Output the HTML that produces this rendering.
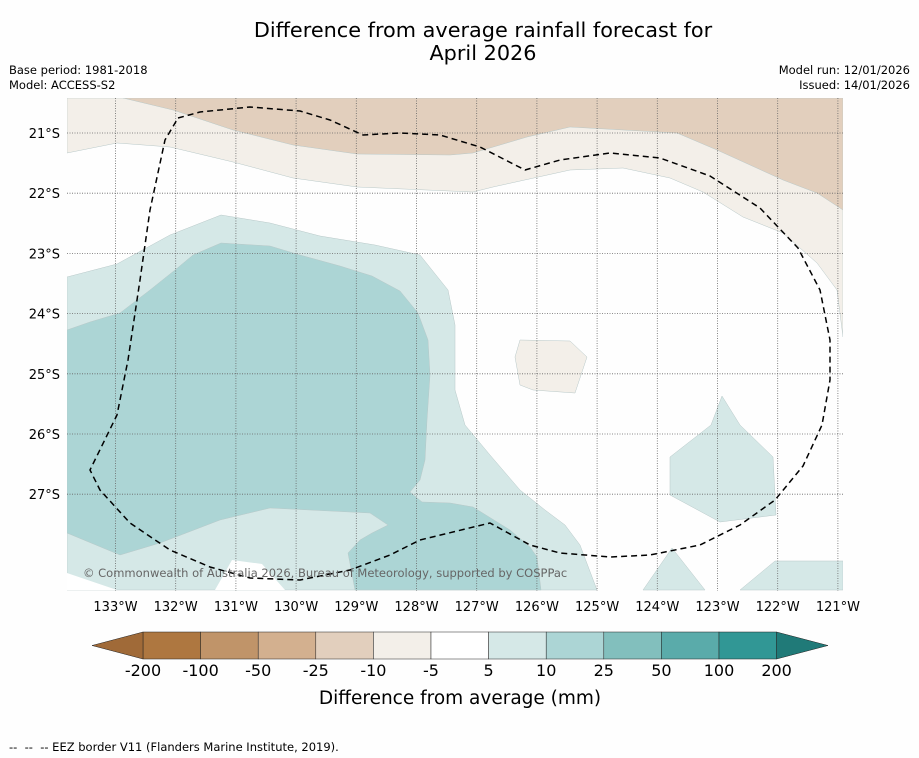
<!DOCTYPE html>
<html><head><meta charset="utf-8"><style>
body{margin:0;background:#fff;font-family:"Liberation Sans","DejaVu Sans",sans-serif}
#wrap{position:relative;width:919px;height:758px;background:#fefefe;overflow:hidden}
.t{position:absolute;color:#000}
</style></head><body>
<div id="wrap">
<div class="t" style="left:0;width:966px;top:19px;text-align:center;font-size:20.8px;line-height:23px;font-family:'DejaVu Sans',sans-serif">Difference from average rainfall forecast for<br>April 2026</div>
<div class="t" style="left:9px;top:63px;font-size:11.5px;line-height:15px;font-family:'DejaVu Sans',sans-serif">Base period: 1981-2018<br>Model: ACCESS-S2</div>
<div class="t" style="right:9px;top:63px;font-size:11.5px;line-height:15px;text-align:right;font-family:'DejaVu Sans',sans-serif">Model run: 12/01/2026<br>Issued: 14/01/2026</div>
<svg id="map" width="919" height="758" style="position:absolute;left:0;top:0" font-family="DejaVu Sans, sans-serif"></svg>
<div class="t" style="left:9px;top:740px;font-size:11.5px;font-family:'DejaVu Sans',sans-serif;white-space:nowrap">--&nbsp; --&nbsp; -- EEZ border V11 (Flanders Marine Institute, 2019).</div>
</div>
<script>
const lonTicks=[-133,-132,-131,-130,-129,-128,-127,-126,-125,-124,-123,-122,-121];
const latTicks=[-21,-22,-23,-24,-25,-26,-27];
const latLabels=["21°S","22°S","23°S","24°S","25°S","26°S","27°S"];
const cbLevels=["-200","-100","-50","-25","-10","-5","5","10","25","50","100","200"];
const cbColors=["#ae7740","#c09469","#d3b08f","#e2cfbd","#f3efe9","#ffffff","#d5e8e7","#acd5d5","#82bfbd","#5aabaa","#319795"];
const P=(x,y)=>[-133+(x-115.5)/60.2,-21-(y-133)/60.2];
const regLightBrown=[[67,98],[843,98],[843,337],[837,290],[817,263],[783,233],[743,217],[703,192],[670,178],[623,168],[570,170],[493,187],[473,192],[357,187],[293,178],[233,162],[170,147],[117,143],[67,153]].map(p=>P(...p));
const regBrown=[[123,98],[843,98],[843,210],[817,193],[783,180],[717,150],[677,133],[570,127],[527,137],[473,153],[450,155],[357,154],[293,145],[233,130],[173,110]].map(p=>P(...p));
const regBrownPatch=[[520,340],[570,341],[587,357],[575,393],[533,390],[520,385],[515,357]].map(p=>P(...p));
const regTeal1=[[67,277],[117,264],[170,235],[221,215],[270,223],[320,236],[375,245],[420,255],[448,290],[455,325],[455,390],[465,425],[490,455],[520,490],[545,510],[565,525],[580,545],[597,590],[67,590]].map(p=>P(...p));
const regWhiteHole=[[67,573],[117,590],[67,590]].map(p=>P(...p));
const regWhiteHole2=[[215,590],[232,560],[262,564],[285,590]].map(p=>P(...p));
const regTeal1b=[[670,457],[711,425],[722,396],[740,425],[773,457],[776,515],[720,522],[670,495]].map(p=>P(...p));
const regTeal1c=[[643,590],[672,548],[705,590]].map(p=>P(...p));
const regTeal1d=[[740,590],[775,561],[843,561],[843,590]].map(p=>P(...p));
const regTeal2=[[67,330],[90,322],[120,313],[150,290],[175,270],[193,255],[221,243],[270,246],[300,255],[340,266],[372,276],[400,291],[418,313],[428,340],[430,375],[427,420],[425,460],[420,480],[410,492],[422,502],[450,503],[473,507],[510,530],[530,547],[537,557],[541,590],[355,590],[348,553],[360,540],[372,533],[388,525],[370,513],[270,508],[220,520],[160,543],[120,555],[67,533]].map(p=>P(...p));
const eez=[[178,118],[200,112],[250,107],[300,111],[330,120],[363,135],[400,133],[440,135],[480,147],[525,170],[560,160],[610,153],[660,158],[710,176],[760,208],[798,248],[820,290],[830,340],[830,380],[822,425],[803,466],[775,500],[740,525],[700,545],[650,555],[610,557],[560,553],[530,545],[490,523],[420,540],[390,555],[350,570],[300,580],[250,578],[210,567],[170,550],[130,523],[100,490],[90,470],[117,415],[128,360],[140,280],[150,210],[165,140],[178,118]].map(p=>P(...p));
const X=lon=>115.5+(lon+133)*60.2, Y=lat=>133+(-21-lat)*60.2;
const svg=document.getElementById('map'),NS='http://www.w3.org/2000/svg';
function mk(t,a,par){const e=document.createElementNS(NS,t);for(const k in a)e.setAttribute(k,a[k]);(par||svg).appendChild(e);return e;}
const defs=mk('defs',{});const cp=mk('clipPath',{id:'c'},defs);mk('rect',{x:67,y:98,width:776,height:493},cp);
const g=mk('g',{'clip-path':'url(#c)'});
const pts=a=>a.map(p=>X(p[0]).toFixed(1)+','+Y(p[1]).toFixed(1)).join(' ');
function poly(a,fill,name){const e=mk('polygon',{points:pts(a),fill:fill,stroke:fill==='#ffffff'?'none':'#b8c8c8','stroke-width':0.5},g);

}
poly(regLightBrown,'#f3efe9','region-minus10-to-minus5');
poly(regBrown,'#e2cfbd','region-minus25-to-minus10');
poly(regBrownPatch,'#f3efe9','region-small-dry-patch');
poly(regTeal1,'#d5e8e7','region-5-to-10');
poly(regWhiteHole,'#ffffff','region-neutral-corner');
poly(regWhiteHole2,'#ffffff','region-neutral-gap');
poly(regTeal1b,'#d5e8e7','region-5-to-10-east');
poly(regTeal1c,'#d5e8e7','region-5-to-10-south');
poly(regTeal1d,'#d5e8e7','region-5-to-10-southeast');
poly(regTeal2,'#acd5d5','region-10-to-25');
lonTicks.forEach(l=>{const e=mk('line',{x1:X(l),x2:X(l),y1:98,y2:591,stroke:'#666','stroke-width':0.8,'stroke-dasharray':'1,1.5'},g);

});
latTicks.forEach(l=>{const e=mk('line',{x1:67,x2:843,y1:Y(l),y2:Y(l),stroke:'#666','stroke-width':0.8,'stroke-dasharray':'1,1.5'},g);

});
const ez=mk('polyline',{points:pts(eez),fill:'none',stroke:'#000','stroke-width':1.5,'stroke-dasharray':'6,4','stroke-linejoin':'round'},g);


const cr=mk('text',{x:83,y:577,'font-size':11.5,fill:'#666'});cr.textContent='© Commonwealth of Australia 2026, Bureau of Meteorology, supported by COSPPac';


lonTicks.forEach(l=>{const e=mk('text',{x:X(l),y:611,'font-size':13,'text-anchor':'middle'});e.textContent=Math.abs(l)+'°W';

});
latTicks.forEach((l,i)=>{const e=mk('text',{x:60,y:Y(l)+5,'font-size':13,'text-anchor':'end'});e.textContent=latLabels[i];

});
const cx0=143,cw=57.6,cy=632,ch=27;
cbColors.forEach((c,i)=>{const e=mk('rect',{x:cx0+i*cw,y:cy,width:cw,height:ch,fill:c,stroke:'#222','stroke-width':0.5});

});
const lt=mk('polygon',{points:`${cx0},${cy} ${cx0},${cy+ch} 92,${cy+ch/2}`,fill:'#a06a38',stroke:'#222','stroke-width':0.5});


const xe=cx0+11*cw;
const rt=mk('polygon',{points:`${xe},${cy} ${xe},${cy+ch} 828,${cy+ch/2}`,fill:'#207a78',stroke:'#222','stroke-width':0.5});


cbLevels.forEach((s,i)=>{const e=mk('text',{x:cx0+i*cw,y:676,'font-size':16,'text-anchor':'middle'});e.textContent=s;

});
const ct=mk('text',{x:460,y:704,'font-size':18.5,'text-anchor':'middle'});ct.textContent='Difference from average (mm)';


</script>
</body></html>
